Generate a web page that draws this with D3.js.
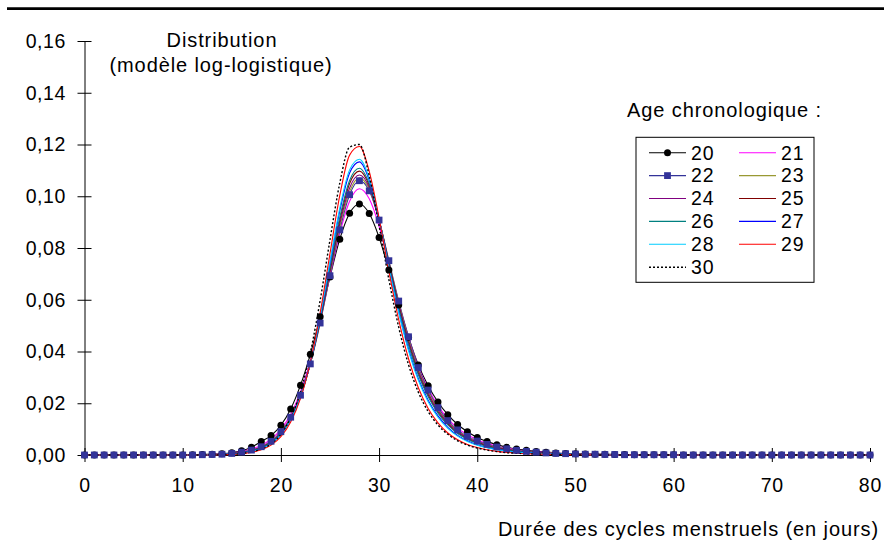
<!DOCTYPE html>
<html><head><meta charset="utf-8">
<script src="https://cdn.jsdelivr.net/npm/d3@7"></script>
<style>
html,body{margin:0;padding:0;background:#fff;}
svg{display:block;}
text{font-family:"Liberation Sans",Arial,Helvetica,sans-serif;fill:#000;}
</style>
</head><body>
<svg id="chart" width="884" height="546"></svg>
<script>
// ---- data ----
const days = d3.range(0, 81);
const ages = ["20","21","22","23","24","25","26","27","28","29","30"];
const xTicks = [0,10,20,30,40,50,60,70,80];
const yTicks = [0,0.02,0.04,0.06,0.08,0.10,0.12,0.14,0.16];

const s20 = [0,0,0,0,0,0,0,0,0,0,0,
 0.0001,0.0002,0.0003,0.0005,0.0009,0.0016,0.0030,0.0052,0.0075,0.0115,
 0.0178,0.0270,0.0389,0.0534,0.0688,0.0834,0.0934,0.0970,0.0933,0.0841,
 0.0715,0.0580,0.0455,0.0348,0.0268,0.0205,0.0156,0.0118,0.0090,0.0068,
 0.0052,0.0040,0.0030,0.0023,0.0018,0.0014,0.0011,0.0008,0.0006,0.0005,
 0.0004,0.0003,0.0003,0.0002,0.0002,0.0001,0.0001,0.0001,0.0001,0.0001,
 0,0,0,0,0,0,0,0,0,0, 0,0,0,0,0,0,0,0,0,0];
const s21 = [0,0,0,0,0,0,0,0,0,0,0,
 0,0.0001,0.0002,0.0004,0.0007,0.0013,0.0023,0.0038,0.0061,0.0099,
 0.0157,0.0245,0.0365,0.0518,0.0691,0.0857,0.0981,0.1029,0.0990,0.0885,
 0.0738,0.0590,0.0456,0.0341,0.0257,0.0191,0.0141,0.0104,0.0078,0.0059,
 0.0045,0.0034,0.0026,0.0020,0.0015,0.0012,0.0009,0.0007,0.0005,0.0004,
 0.0003,0.0003,0.0002,0.0002,0.0001,0.0001,0.0001,0.0001,0.0001,0.0001,
 0,0,0,0,0,0,0,0,0,0, 0,0,0,0,0,0,0,0,0,0];
const s22 = [0,0,0,0,0,0,0,0,0,0,0,
 0,0.0001,0.0002,0.0003,0.0006,0.0011,0.0019,0.0032,0.0053,0.0090,
 0.0146,0.0231,0.0352,0.0510,0.0693,0.0870,0.1006,0.1060,0.1021,0.0908,
 0.0751,0.0595,0.0457,0.0338,0.0251,0.0183,0.0133,0.0097,0.0072,0.0054,
 0.0041,0.0031,0.0024,0.0018,0.0014,0.0011,0.0008,0.0006,0.0005,0.0004,
 0.0003,0.0003,0.0002,0.0002,0.0001,0.0001,0.0001,0.0001,0.0001,0.0001,
 0,0,0,0,0,0,0,0,0,0, 0,0,0,0,0,0,0,0,0,0];
const s23 = [0,0,0,0,0,0,0,0,0,0,0,
 0,0.0001,0.0002,0.0003,0.0006,0.0011,0.0018,0.0031,0.0052,0.0088,
 0.0145,0.0230,0.0352,0.0513,0.0700,0.0881,0.1018,0.1071,0.1027,0.0909,
 0.0748,0.0589,0.0450,0.0332,0.0245,0.0178,0.0129,0.0094,0.0070,0.0052,
 0.0039,0.0030,0.0023,0.0017,0.0013,0.0010,0.0008,0.0006,0.0005,0.0004,
 0.0003,0.0003,0.0002,0.0002,0.0001,0.0001,0.0001,0.0001,0,0,
 0,0,0,0,0,0,0,0,0,0, 0,0,0,0,0,0,0,0,0,0];
const s24 = [0,0,0,0,0,0,0,0,0,0,0,
 0,0.0001,0.0002,0.0003,0.0005,0.0010,0.0017,0.0030,0.0050,0.0087,
 0.0143,0.0229,0.0353,0.0517,0.0707,0.0893,0.1032,0.1082,0.1034,0.0909,
 0.0744,0.0583,0.0443,0.0325,0.0239,0.0173,0.0125,0.0091,0.0067,0.0050,
 0.0037,0.0028,0.0022,0.0016,0.0012,0.0010,0.0007,0.0005,0.0004,0.0003,
 0.0003,0.0002,0.0002,0.0001,0.0001,0.0001,0,0,0,0,
 0,0,0,0,0,0,0,0,0,0, 0,0,0,0,0,0,0,0,0,0];
const s25 = [0,0,0,0,0,0,0,0,0,0,0,
 0,0.0001,0.0001,0.0002,0.0005,0.0009,0.0016,0.0029,0.0049,0.0085,
 0.0141,0.0228,0.0354,0.0521,0.0717,0.0907,0.1049,0.1097,0.1042,0.0910,
 0.0740,0.0575,0.0433,0.0316,0.0231,0.0166,0.0120,0.0086,0.0063,0.0047,
 0.0035,0.0026,0.0020,0.0015,0.0011,0.0009,0.0007,0.0005,0.0004,0.0003,
 0.0002,0.0002,0.0001,0.0001,0.0001,0,0,0,0,0,
 0,0,0,0,0,0,0,0,0,0, 0,0,0,0,0,0,0,0,0,0];
const s26 = [0,0,0,0,0,0,0,0,0,0,0,
 0,0.0001,0.0001,0.0002,0.0005,0.0009,0.0016,0.0028,0.0048,0.0083,
 0.0140,0.0227,0.0354,0.0524,0.0724,0.0918,0.1061,0.1108,0.1048,0.0911,
 0.0736,0.0569,0.0426,0.0310,0.0225,0.0162,0.0116,0.0083,0.0061,0.0045,
 0.0033,0.0025,0.0019,0.0014,0.0011,0.0008,0.0006,0.0005,0.0004,0.0003,
 0.0002,0.0002,0.0001,0.0001,0.0001,0,0,0,0,0,
 0,0,0,0,0,0,0,0,0,0, 0,0,0,0,0,0,0,0,0,0];
const s27 = [0,0,0,0,0,0,0,0,0,0,0,
 0,0,0.0001,0.0002,0.0004,0.0008,0.0014,0.0025,0.0045,0.0080,
 0.0136,0.0224,0.0355,0.0531,0.0740,0.0943,0.1090,0.1133,0.1062,0.0912,
 0.0728,0.0555,0.0410,0.0295,0.0212,0.0151,0.0107,0.0076,0.0055,0.0040,
 0.0029,0.0022,0.0016,0.0012,0.0009,0.0007,0.0005,0.0004,0.0003,0.0002,
 0.0002,0.0001,0.0001,0,0,0,0,0,0,0,
 0,0,0,0,0,0,0,0,0,0, 0,0,0,0,0,0,0,0,0,0];
const s28 = [0,0,0,0,0,0,0,0,0,0,0,
 0,0,0.0001,0.0002,0.0003,0.0007,0.0013,0.0024,0.0044,0.0078,
 0.0135,0.0223,0.0356,0.0535,0.0747,0.0954,0.1102,0.1143,0.1068,0.0913,
 0.0725,0.0550,0.0403,0.0289,0.0206,0.0146,0.0103,0.0073,0.0052,0.0038,
 0.0028,0.0020,0.0015,0.0011,0.0008,0.0007,0.0005,0.0004,0.0003,0.0002,
 0.0002,0.0001,0.0001,0,0,0,0,0,0,0,
 0,0,0,0,0,0,0,0,0,0, 0,0,0,0,0,0,0,0,0,0];
const s29 = [0,0,0,0,0,0,0,0,0,0,0,
 0,0,0,0.0001,0.0002,0.0005,0.0010,0.0020,0.0038,0.0071,
 0.0128,0.0219,0.0358,0.0549,0.0778,0.1003,0.1159,0.1192,0.1096,0.0916,
 0.0710,0.0523,0.0372,0.0260,0.0180,0.0124,0.0085,0.0059,0.0041,0.0029,
 0.0020,0.0014,0.0010,0.0007,0.0005,0.0004,0.0003,0.0002,0.0002,0.0001,
 0.0001,0,0,0,0,0,0,0,0,0,
 0,0,0,0,0,0,0,0,0,0, 0,0,0,0,0,0,0,0,0,0];
const s30 = [0,0,0,0,0,0,0,0,0,0,0,
 0,0,0,0.0001,0.0002,0.0006,0.0012,0.0023,0.0043,0.0080,
 0.0144,0.0245,0.0395,0.0597,0.0831,0.1051,0.1190,0.1200,0.1079,0.0886,
 0.0678,0.0494,0.0349,0.0243,0.0168,0.0116,0.0080,0.0055,0.0038,0.0027,
 0.0019,0.0013,0.0009,0.0007,0.0005,0.0004,0.0003,0.0002,0.0002,0.0001,
 0,0,0,0,0,0,0,0,0,0,
 0,0,0,0,0,0,0,0,0,0, 0,0,0,0,0,0,0,0,0,0];

// ---- styles ----
const seriesData = [s20,s21,s22,s23,s24,s25,s26,s27,s28,s29,s30];
const colors = ["#000000","#FF00FF","#333399","#999933","#800080","#800000","#008080","#0000FF","#00CCFF","#FF0000","#000000"];

const svg = d3.select("#chart");
const x = d3.scaleLinear().domain([0, 80]).range([84.5, 870]);
const y = d3.scaleLinear().domain([0, 0.16]).range([455, 41]);

// top rule
svg.append("line").attr("x1", 7).attr("x2", 884).attr("y1", 8.6).attr("y2", 8.6)
  .attr("stroke", "#000").attr("stroke-width", 2.7);

// axes
const fmt = d => d3.format(".2f")(d).replace(".", ",");
const gy = svg.append("g").attr("transform", `translate(${x(0)},0)`)
  .call(d3.axisLeft(y).tickValues(yTicks).tickFormat(fmt).tickSize(7).tickPadding(11.5).tickSizeOuter(0));
gy.selectAll(".tick line").attr("x1", 7);
gy.selectAll("text").style("font-size", "19.5px").style("letter-spacing", "0.6px")
  .style("font-family", '"Liberation Sans",Arial,sans-serif').attr("fill", "#000");
gy.select(".domain").attr("stroke", "#000");

const gx = svg.append("g").attr("transform", `translate(0,${y(0)})`)
  .call(d3.axisBottom(x).tickValues(xTicks).tickSize(7).tickPadding(16).tickSizeOuter(0));
gx.selectAll(".tick line").attr("y1", -7);
gx.selectAll("text").style("font-size", "19.5px").style("letter-spacing", "0.8px")
  .style("font-family", '"Liberation Sans",Arial,sans-serif').attr("fill", "#000");
gx.select(".domain").attr("stroke", "#000");

// lines
const line = d3.line().x(d => x(d[0])).y(d => y(d[1])).curve(d3.curveMonotoneX);
seriesData.forEach((s, i) => {
  const pts = days.map((d, k) => [d, s[k]]);
  svg.append("path").datum(pts)
    .attr("d", line).attr("fill", "none")
    .attr("stroke", colors[i])
    .attr("stroke-width", i === 10 ? 1.4 : 1.1)
    .attr("stroke-dasharray", i === 10 ? "2,2" : null);
});

// markers: series 20 circles, series 22 squares
svg.append("g").selectAll("circle").data(days).join("circle")
  .attr("cx", d => x(d)).attr("cy", (d, k) => y(s20[k])).attr("r", 3.5).attr("fill", "#000");
svg.append("g").selectAll("rect").data(days).join("rect")
  .attr("x", d => x(d) - 3.4).attr("y", (d, k) => y(s22[k]) - 3.4)
  .attr("width", 6.8).attr("height", 6.8).attr("fill", "#333399");

// titles
const tstyle = sel => sel.style("font-size", "20px").style("letter-spacing", "0.9px");
tstyle(svg.append("text").attr("x", 222).attr("y", 46.5).attr("text-anchor", "middle").text("Distribution"));
tstyle(svg.append("text").attr("x", 221).attr("y", 71.5).attr("text-anchor", "middle").text("(modèle log-logistique)"));
tstyle(svg.append("text").attr("x", 627).attr("y", 117).text("Age chronologique :"));
tstyle(svg.append("text").attr("x", 879).attr("y", 536).attr("text-anchor", "end").text("Durée des cycles menstruels (en jours)"));

// legend
const lg = svg.append("g");
lg.append("rect").attr("x", 636).attr("y", 137.3).attr("width", 178).attr("height", 145)
  .attr("fill", "#fff").attr("stroke", "#000").attr("stroke-width", 1);
ages.forEach((a, i) => {
  const col = i % 2, row = Math.floor(i / 2);
  const lx = 649 + col * 90, ly = 152.7 + row * 22.9;
  lg.append("line").attr("x1", lx).attr("x2", lx + 37).attr("y1", ly).attr("y2", ly)
    .attr("stroke", colors[i]).attr("stroke-width", i === 10 ? 1.4 : 1.1)
    .attr("stroke-dasharray", i === 10 ? "2,2" : null);
  if (i === 0) lg.append("circle").attr("cx", lx + 18.5).attr("cy", ly).attr("r", 3.5).attr("fill", "#000");
  if (i === 2) lg.append("rect").attr("x", lx + 15.1).attr("y", ly - 3.4).attr("width", 6.8).attr("height", 6.8).attr("fill", "#333399");
  lg.append("text").attr("x", lx + 42).attr("y", ly + 6.8)
    .style("font-size", "19.5px").style("letter-spacing", "0.8px").text(a);
});
</script>
</body></html>
